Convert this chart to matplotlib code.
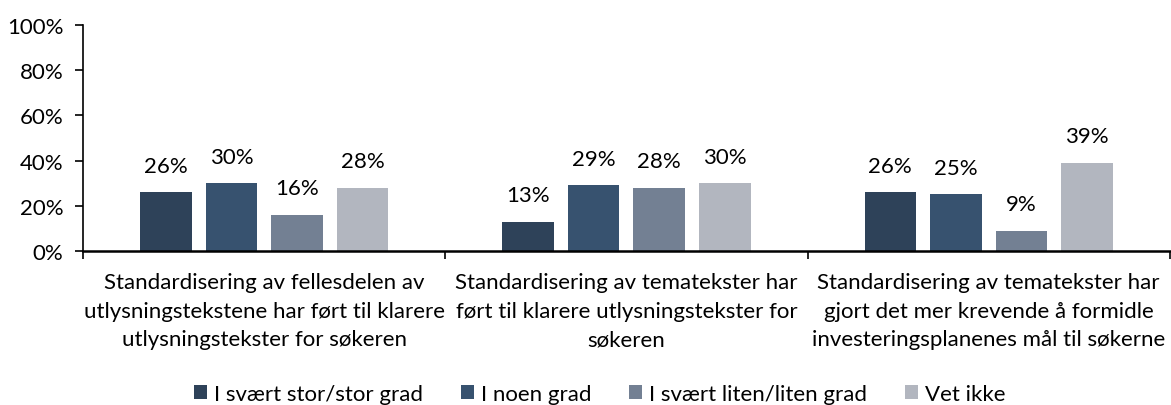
import matplotlib.pyplot as plt
import numpy as np

plt.rcParams["font.family"] = ["Lato", "DejaVu Sans"]

categories = [
    "Standardisering av fellesdelen av\nutlysningstekstene har ført til klarere\nutlysningstekster for søkeren",
    "Standardisering av tematekster har\nført til klarere utlysningstekster for\nsøkeren",
    "Standardisering av tematekster har\ngjort det mer krevende å formidle\ninvesteringsplanenes mål til søkerne",
]
series_names = ["I svært stor/stor grad", "I noen grad", "I svært liten/liten grad", "Vet ikke"]
values = [
    [26, 13, 26],
    [30, 29, 25],
    [16, 28, 9],
    [28, 30, 39],
]
colors = ["#2e4259", "#37526f", "#738093", "#b2b6bf"]

fs = 16

fig = plt.figure(figsize=(11.71, 4.06), dpi=100)
ax = fig.add_axes([0.0709, 0.3793, 0.9281, 0.5567])

x = np.arange(len(categories))
width = 0.1425
pitch = 0.181
for i, (name, vals) in enumerate(zip(series_names, values)):
    offset = (i - 1.5) * pitch
    bars = ax.bar(x + offset, vals, width=width, color=colors[i], label=name)
    for rect, v in zip(bars, vals):
        ax.annotate(f"{v}%", (rect.get_x() + rect.get_width() / 2, v),
                    xytext=(0, 12), textcoords="offset points",
                    ha="center", va="bottom", fontsize=fs)

ax.set_xlim(-0.5, len(categories) - 0.5)
ax.set_ylim(0, 100)
ax.set_yticks(range(0, 101, 20))
ax.set_yticklabels([f"{t}%" for t in range(0, 101, 20)], fontsize=fs)
ax.set_xticks(np.arange(len(categories) + 1) - 0.5)
ax.set_xticklabels([])
ax.set_xticks(x, minor=True)
ax.set_xticklabels(categories, minor=True, fontsize=fs, linespacing=1.55)
ax.tick_params(axis="x", which="minor", length=0, pad=15)
ax.tick_params(axis="x", which="major", length=6, width=1.2)
ax.tick_params(axis="y", length=6, width=1.2, pad=8)
for side in ["top", "right"]:
    ax.spines[side].set_visible(False)
ax.spines["left"].set_linewidth(1.2)
ax.spines["bottom"].set_linewidth(1.8)

fig.legend(loc="center", bbox_to_anchor=(0.512, 0.027), ncol=4, frameon=False,
           fontsize=fs, handlelength=0.6, handleheight=0.6, handletextpad=0.3,
           columnspacing=1.7)

fig.savefig("out.png", dpi=100)
